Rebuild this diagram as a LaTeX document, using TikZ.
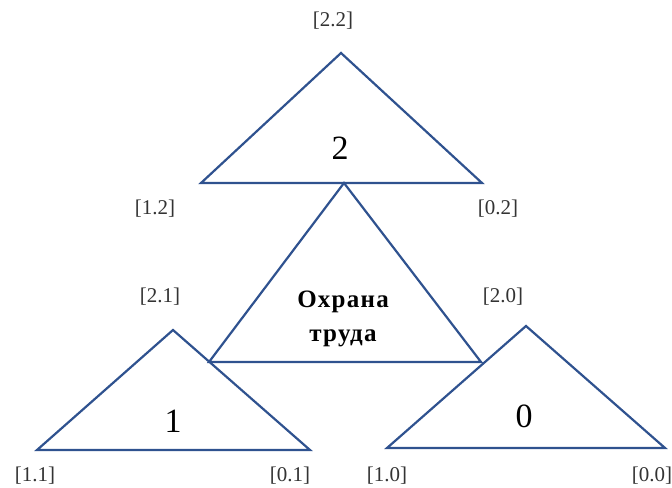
\documentclass[tikz,border=0pt]{standalone}
\usepackage{fontspec}
\setmainfont{Liberation Serif}
\newfontfamily\spacedfont[LetterSpace=5]{Liberation Serif}
\definecolor{triblue}{RGB}{47,82,143}

\begin{document}
\begin{tikzpicture}[x=1bp, y=-1bp, line width=2.2bp,
    edge/.style={draw=triblue, line join=miter},
    lbl/.style={text=black!80, inner sep=0pt, font=\fontsize{21bp}{24bp}\selectfont},
    num/.style={inner sep=0pt, font=\fontsize{34bp}{38bp}\selectfont}]
    \useasboundingbox (0,0) rectangle (672,488);
    % Top triangle (2)
    \coordinate (topA) at (341,53);
    \coordinate (topL) at (201,183);
    \coordinate (topR) at (482,183);
    \draw[edge] (topA) -- (topL) -- (topR) -- cycle;
    \node[num] (numtwo) at (340,148) {2};
    \node[lbl] (lab22) at (333,21) {[2.2]};
    \node[lbl] (lab12) at (155,209) {[1.2]};
    \node[lbl] (lab02) at (498,209) {[0.2]};
    % Middle triangle
    \coordinate (midA) at (344,183);
    \coordinate (midL) at (209,362);
    \coordinate (midR) at (481,362);
    \draw[edge] (midA) -- (midL) -- (midR) -- cycle;
    \node[align=center, inner sep=0pt, font=\spacedfont\fontsize{25bp}{34bp}\selectfont\bfseries] (safety) at (343,319) {Охрана\\труда};
    % Left triangle (1)
    \coordinate (leftA) at (173,330);
    \coordinate (leftL) at (37,450);
    \coordinate (leftR) at (310,450);
    \draw[edge] (leftA) -- (leftL) -- (leftR) -- cycle;
    \node[num] (numone) at (173,421) {1};
    \node[lbl] (lab21) at (160,297) {[2.1]};
    \node[lbl] (lab11) at (35,476) {[1.1]};
    \node[lbl] (lab01) at (290,476) {[0.1]};
    % Right triangle (0)
    \coordinate (rightA) at (526,326);
    \coordinate (rightL) at (387,448);
    \coordinate (rightR) at (665,448);
    \draw[edge] (rightA) -- (rightL) -- (rightR) -- cycle;
    \node[num] (numzero) at (524,416) {0};
    \node[lbl] (lab20) at (503,297) {[2.0]};
    \node[lbl] (lab10) at (387,476) {[1.0]};
    \node[lbl] (lab00) at (652,476) {[0.0]};
\end{tikzpicture}
\end{document}
